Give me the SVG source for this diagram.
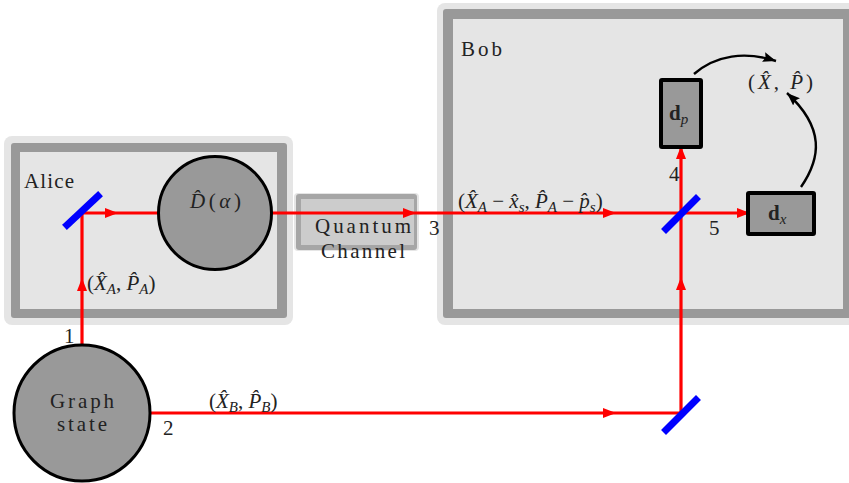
<svg xmlns="http://www.w3.org/2000/svg" width="849" height="483" viewBox="0 0 849 483">
<style>
text{font-family:"Liberation Serif","Times New Roman",serif;font-size:21px;fill:#222}
.m{font-style:italic}
.r{font-style:normal}
.s{font-size:15px}
.halo{fill:#e5e5e5}
.band{fill:#999}
.in{fill:#e5e5e5}
.node{fill:#999;stroke:#000}
.beam{fill:none;stroke:#f00;stroke-width:3.2}
.split{stroke:#00f;stroke-width:7;stroke-linecap:square}
.curve{fill:none;stroke:#000;stroke-width:2.4}
</style>
<defs>
<marker id="ah" markerUnits="userSpaceOnUse" markerWidth="14" markerHeight="12" refX="13" refY="6" orient="auto"><path d="M0,1 L13,6 L0,11 Z" fill="#f00"/></marker>
<marker id="bh" markerUnits="userSpaceOnUse" markerWidth="14" markerHeight="12" refX="13" refY="6" orient="auto"><path d="M0,1 L13,6 L0,11 L2,6 Z" fill="#000"/></marker>
</defs>
<g id="alice">
<rect class="halo" x="4" y="136" width="289" height="189" rx="8"/>
<rect class="band" x="11" y="143" width="276" height="175" rx="3"/>
<rect class="in" x="20" y="152" width="257" height="157"/>
<text x="24" y="188" textLength="50">Alice</text>
</g>
<g id="bob">
<rect class="halo" x="437" y="3" width="430" height="322" rx="8"/>
<rect class="band" x="443" y="9" width="420" height="309" rx="3"/>
<rect class="in" x="453" y="19" width="390" height="290"/>
<text x="461" y="56" textLength="41">Bob</text>
</g>
<g id="channel">
<rect x="294" y="193" width="125" height="58" rx="4" fill="#e5e5e5"/>
<rect x="296" y="194" width="121" height="56" rx="3" fill="#a6a6a6"/>
<rect x="301" y="199" width="113" height="46" fill="#ccc"/>
<text x="315" y="233" textLength="96">Quantum</text>
<text x="321" y="258" textLength="84">Channel</text>
</g>
<g id="connectors">
<path class="beam" d="M82,346 V278" marker-end="url(#ah)"/>
<path class="beam" d="M82,278 V213 H118" marker-end="url(#ah)"/>
<path class="beam" d="M118,213 H159"/>
<path class="beam" d="M272,213 H416" marker-end="url(#ah)"/>
<path class="beam" d="M416,213 H616" marker-end="url(#ah)"/>
<path class="beam" d="M616,213 H750" marker-end="url(#ah)"/>
<path class="beam" d="M150,413 H616" marker-end="url(#ah)"/>
<path class="beam" d="M616,413 H681 V277" marker-end="url(#ah)"/>
<path class="beam" d="M681,277 V146" marker-end="url(#ah)"/>
<path class="curve" d="M694,74 C716,55 745,51 776,61" marker-end="url(#bh)"/>
<path class="curve" d="M801,187 C821,158 825,128 787,93" marker-end="url(#bh)"/>
</g>
<g id="splitter-a"><line class="split" x1="67" y1="225" x2="98" y2="196"/></g>
<g id="splitter-b"><line class="split" x1="666" y1="229" x2="696" y2="199"/></g>
<g id="splitter-c"><line class="split" x1="666" y1="430" x2="696" y2="400"/></g>
<g id="displacement">
<circle class="node" cx="215" cy="213" r="56.5" stroke-width="3"/>
<text class="m" x="190" y="208" textLength="51">D̂<tspan class="r">(</tspan>α<tspan class="r">)</tspan></text>
</g>
<g id="graph-state">
<circle class="node" cx="82" cy="413" r="68" stroke-width="3"/>
<text x="50" y="408" textLength="64">Graph</text>
<text x="57" y="431" textLength="50">state</text>
</g>
<g id="detector-p">
<rect class="node" x="661" y="80" width="40" height="67" rx="1" stroke-width="4"/>
<text x="669" y="120"><tspan font-weight="bold">d</tspan><tspan class="m s" dy="4">p</tspan></text>
</g>
<g id="detector-x">
<rect class="node" x="748" y="193" width="66" height="41" rx="1" stroke-width="4"/>
<text x="768" y="220"><tspan font-weight="bold">d</tspan><tspan class="m s" dy="4">x</tspan></text>
</g>
<g id="labels">
<text x="87" y="290">(<tspan class="m">X̂</tspan><tspan class="m s" dy="4">A</tspan><tspan dy="-4">, </tspan><tspan class="m">P̂</tspan><tspan class="m s" dy="4">A</tspan><tspan dy="-4">)</tspan></text>
<text x="209" y="408">(<tspan class="m">X̂</tspan><tspan class="m s" dy="4">B</tspan><tspan dy="-4">, </tspan><tspan class="m">P̂</tspan><tspan class="m s" dy="4">B</tspan><tspan dy="-4">)</tspan></text>
<text x="458" y="208">(<tspan class="m">X̂</tspan><tspan class="m s" dy="4">A</tspan><tspan dy="-4"> − </tspan><tspan class="m">x̂</tspan><tspan class="m s" dy="4">s</tspan><tspan dy="-4">, </tspan><tspan class="m">P̂</tspan><tspan class="m s" dy="4">A</tspan><tspan dy="-4"> − </tspan><tspan class="m">p̂</tspan><tspan class="m s" dy="4">s</tspan><tspan dy="-4">)</tspan></text>
<text x="748" y="89" textLength="65">(<tspan class="m">X̂</tspan>, <tspan class="m">P̂</tspan>)</text>
<text x="64" y="343">1</text>
<text x="163" y="435">2</text>
<text x="429" y="235">3</text>
<text x="669" y="181">4</text>
<text x="709" y="235">5</text>
</g>
</svg>
